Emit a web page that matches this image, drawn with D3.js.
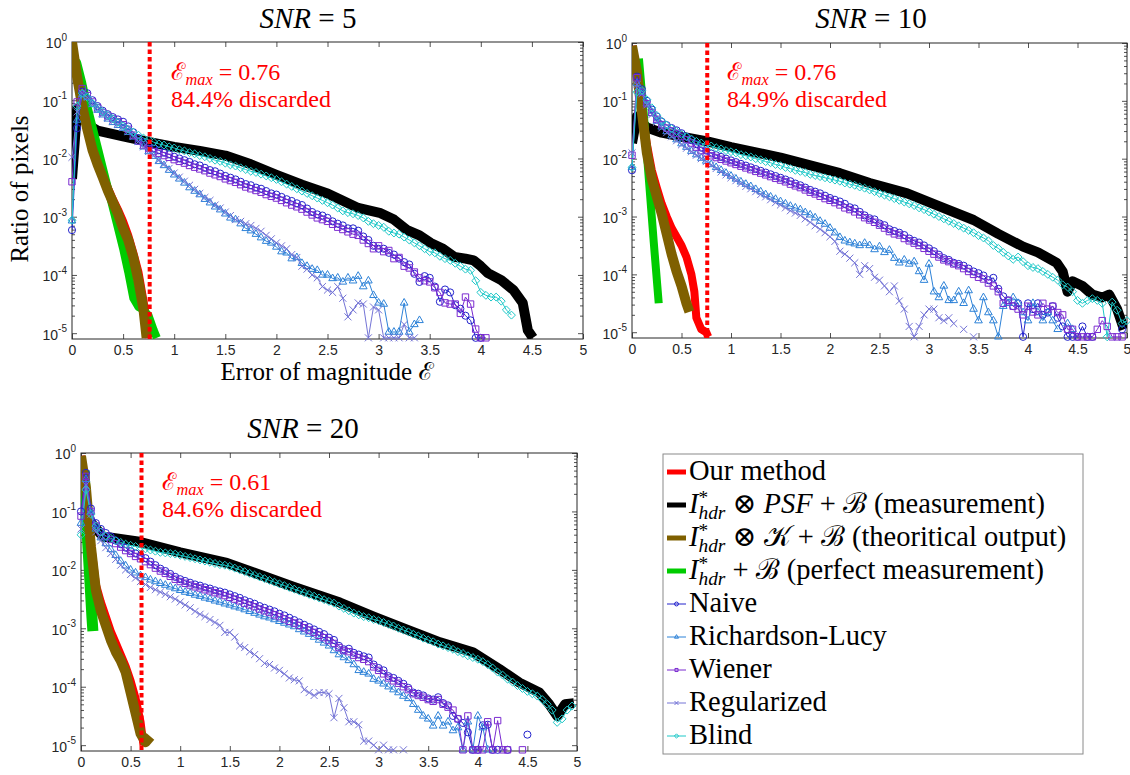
<!DOCTYPE html>
<html><head><meta charset="utf-8"><title>Error of magnitude histograms</title>
<script src="https://cdn.jsdelivr.net/npm/d3@7/dist/d3.min.js"></script>
<style>html,body{margin:0;padding:0;background:#fff;} svg text{white-space:pre;}</style>
</head><body>
<svg id="chart" width="1130" height="775"></svg>
<script>
// ---------------- DATA (y values are log10 of "Ratio of pixels") ----------------
const binStep = 0.05;   // histogram bin width along the error axis (marker series start at 0)
const xTickValues = [0,0.5,1,1.5,2,2.5,3,3.5,4,4.5,5];
const xTickLabels = ["0","0.5","1","1.5","2","2.5","3","3.5","4","4.5","5"];
const yTickExponents = [0,-1,-2,-3,-4,-5];
const yTickLabels = ["0","-1","-2","-3","-4","-5"];
const snrValues = ["5","10","20"];
const emaxValues = [0.76,0.76,0.61];
const discardedPct = ["84.4","84.9","84.6"];

// ---- SNR = 5 ----
const snr5_ours = [[0,-0.05],[0.05,-0.6],[0.1,-1.05],[0.15,-1.45],[0.2,-1.8],[0.25,-2.05],[0.3,-2.27],[0.35,-2.5],[0.4,-2.7],[0.45,-2.88],[0.5,-3.08],[0.55,-3.32],[0.6,-3.62],[0.65,-3.95],[0.7,-4.45],[0.75,-5.08]];
const snr5_measure = [[0,-2.35],[0.05,-1.15],[0.1,-1.25],[0.15,-1.42],[0.25,-1.52],[0.5,-1.62],[0.76,-1.72],[1,-1.8],[1.25,-1.87],[1.5,-1.95],[1.75,-2.1],[2,-2.28],[2.25,-2.45],[2.5,-2.6],[2.63,-2.71],[2.8,-2.85],[3.02,-2.94],[3.15,-3.05],[3.28,-3.23],[3.4,-3.32],[3.51,-3.45],[3.63,-3.55],[3.74,-3.69],[3.85,-3.72],[3.93,-3.75],[4,-3.85],[4.07,-3.97],[4.2,-4.09],[4.32,-4.26],[4.41,-4.48],[4.46,-4.95],[4.51,-5.08]];
const snr5_theory = [[0,0],[0.05,-0.6],[0.1,-1.1],[0.15,-1.5],[0.2,-1.85],[0.25,-2.1],[0.3,-2.32],[0.35,-2.55],[0.4,-2.75],[0.45,-2.95],[0.5,-3.2],[0.55,-3.4],[0.6,-3.7],[0.65,-4.1],[0.7,-4.6],[0.73,-5.08]];
const snr5_perfect = [[0,-0.55],[0.05,-0.35],[0.1,-0.7],[0.15,-1.1],[0.2,-1.45],[0.25,-1.8],[0.3,-2.15],[0.35,-2.5],[0.4,-2.85],[0.45,-3.2],[0.5,-3.55],[0.55,-3.95],[0.6,-4.4],[0.65,-4.55],[0.7,-4.6],[0.75,-4.7],[0.8,-4.95],[0.83,-5.08]];
const snr5_naive = [-3.23,-1.48,-0.85,-0.88,-1.0,-1.1,-1.18,-1.24,-1.29,-1.33,
 -1.37,-1.45,-1.55,-1.65,-1.73,-1.79,-1.83,-1.86,-1.9,-1.93,
 -1.97,-2.0,-2.03,-2.06,-2.1,-2.12,-2.16,-2.2,-2.22,-2.26,
 -2.3,-2.33,-2.36,-2.4,-2.44,-2.46,-2.5,-2.52,-2.56,-2.6,
 -2.62,-2.66,-2.7,-2.73,-2.77,-2.8,-2.86,-2.92,-2.96,-2.98,
 -3.02,-3.08,-3.12,-3.15,-3.2,-3.2,-3.24,-3.34,-3.4,-3.5,
 -3.55,-3.55,-3.62,-3.65,-3.72,-3.78,-3.82,-3.98,-4.12,-4.02,
 -4.05,-4.2,-4.46,-4.25,-4.3,-4.52,-4.58,-4.7,-4.78,-5.08,
 -5.08];
const snr5_rl = [-3.07,-1.34,-0.9,-0.95,-1.07,-1.17,-1.25,-1.32,-1.38,-1.43,
 -1.48,-1.55,-1.63,-1.72,-1.8,-1.88,-1.96,-2.05,-2.12,-2.2,
 -2.28,-2.35,-2.42,-2.5,-2.56,-2.62,-2.7,-2.76,-2.83,-2.88,
 -2.95,-3.02,-3.05,-3.12,-3.2,-3.24,-3.3,-3.36,-3.42,-3.45,
 -3.52,-3.6,-3.62,-3.72,-3.7,-3.8,-3.85,-3.9,-3.92,-4.0,
 -4.0,-4.06,-4.05,-4.12,-4.05,-4.1,-4.02,-4.2,-4.1,-4.35,
 -4.48,-4.5,-4.98,-4.98,-4.98,-4.48,-4.98,-4.85,-4.78];
const snr5_wiener = [-2.4,-1.03,-0.8,-0.92,-1.03,-1.13,-1.21,-1.27,-1.32,-1.37,
 -1.42,-1.5,-1.6,-1.7,-1.77,-1.83,-1.88,-1.91,-1.95,-1.98,
 -2.02,-2.05,-2.08,-2.12,-2.15,-2.18,-2.21,-2.25,-2.28,-2.31,
 -2.35,-2.38,-2.41,-2.45,-2.49,-2.52,-2.55,-2.58,-2.62,-2.65,
 -2.68,-2.72,-2.76,-2.8,-2.83,-2.87,-2.92,-2.97,-3.02,-3.05,
 -3.08,-3.13,-3.18,-3.22,-3.26,-3.3,-3.32,-3.4,-3.46,-3.55,
 -3.5,-3.6,-3.58,-3.72,-3.7,-3.85,-3.88,-3.95,-4.05,-4.1,
 -4.12,-4.22,-4.3,-4.48,-4.5,-4.5,-4.66,-4.38,-4.5,-4.93,
 -5.08,-5.08];
const snr5_reg = [-1.98,-1.2,-0.88,-0.95,-1.06,-1.16,-1.24,-1.31,-1.37,-1.42,
 -1.47,-1.54,-1.62,-1.71,-1.8,-1.88,-1.95,-2.03,-2.1,-2.17,
 -2.25,-2.32,-2.39,-2.46,-2.53,-2.6,-2.67,-2.72,-2.8,-2.85,
 -2.92,-2.98,-3.05,-3.08,-3.12,-3.15,-3.2,-3.25,-3.32,-3.38,
 -3.45,-3.5,-3.55,-3.65,-3.7,-3.85,-3.9,-4.0,-4.05,-4.2,
 -4.26,-4.3,-4.2,-4.4,-4.72,-4.6,-4.48,-4.5,-5.08,-4.55,
 -4.6,-5.08,-5.08,-5.08,-5.08,-4.85,-5.08,-5.08];
const snr5_blind = [-3.06,-1.1,-0.88,-0.95,-1.05,-1.13,-1.2,-1.26,-1.32,-1.38,
 -1.44,-1.5,-1.55,-1.6,-1.65,-1.68,-1.72,-1.75,-1.77,-1.8,
 -1.82,-1.85,-1.87,-1.9,-1.92,-1.95,-1.97,-2.0,-2.03,-2.05,
 -2.08,-2.11,-2.13,-2.16,-2.19,-2.22,-2.24,-2.27,-2.3,-2.33,
 -2.36,-2.4,-2.44,-2.48,-2.52,-2.56,-2.6,-2.64,-2.68,-2.72,
 -2.76,-2.8,-2.85,-2.9,-2.93,-2.95,-2.98,-3.02,-3.08,-3.12,
 -3.15,-3.18,-3.25,-3.28,-3.3,-3.35,-3.4,-3.45,-3.5,-3.55,
 -3.6,-3.62,-3.68,-3.72,-3.75,-3.8,-3.85,-3.9,-3.92,-4.1,
 -4.3,-4.35,-4.38,-4.38,-4.45,-4.6,-4.69];

// ---- SNR = 10 ----
const snr10_ours = [[0,-0.05],[0.05,-0.5],[0.1,-1.15],[0.15,-1.75],[0.2,-2.2],[0.25,-2.5],[0.3,-2.78],[0.35,-3.0],[0.4,-3.2],[0.45,-3.35],[0.5,-3.5],[0.55,-3.7],[0.6,-4.0],[0.63,-4.3],[0.65,-4.75],[0.7,-4.95],[0.75,-5.0],[0.77,-5.08]];
const snr10_measure = [[0,-1.73],[0.05,-1.27],[0.1,-1.38],[0.15,-1.46],[0.3,-1.55],[0.5,-1.62],[0.76,-1.7],[1,-1.8],[1.5,-1.98],[2.1,-2.25],[2.4,-2.42],[2.78,-2.6],[3.1,-2.82],[3.45,-3.06],[3.7,-3.3],[3.95,-3.52],[4.1,-3.62],[4.29,-3.8],[4.35,-3.95],[4.4,-4.3],[4.45,-4.12],[4.55,-4.2],[4.65,-4.35],[4.75,-4.4],[4.82,-4.35],[4.9,-4.6],[4.97,-4.95]];
const snr10_theory = [[0,-0.05],[0.05,-0.5],[0.1,-1.2],[0.15,-1.9],[0.2,-2.35],[0.25,-2.65],[0.3,-2.95],[0.35,-3.3],[0.4,-3.65],[0.45,-3.95],[0.5,-4.2],[0.55,-4.5],[0.58,-4.65]];
const snr10_perfect = [[0.07,-0.27],[0.12,-1.25],[0.17,-2.35],[0.22,-3.45],[0.27,-4.5]];
const snr10_naive = [-2.2,-0.58,-0.8,-1.0,-1.15,-1.27,-1.36,-1.42,-1.47,-1.51,
 -1.56,-1.62,-1.68,-1.75,-1.81,-1.86,-1.91,-1.94,-1.97,-2.0,
 -2.03,-2.06,-2.09,-2.12,-2.15,-2.18,-2.21,-2.24,-2.27,-2.3,
 -2.33,-2.36,-2.39,-2.43,-2.46,-2.5,-2.54,-2.57,-2.6,-2.64,
 -2.68,-2.71,-2.74,-2.78,-2.84,-2.86,-2.92,-2.98,-3.03,-3.05,
 -3.12,-3.15,-3.22,-3.25,-3.28,-3.32,-3.38,-3.42,-3.45,-3.5,
 -3.55,-3.6,-3.66,-3.72,-3.75,-3.8,-3.82,-3.85,-3.9,-3.95,
 -3.98,-4.02,-4.1,-4.06,-4.25,-4.38,-4.45,-4.55,-4.5,-5.08,
 -4.5,-4.6,-4.5,-4.7,-4.66,-4.55,-4.75,-4.9,-5.08,-5.08,
 -5.08,-4.9,-5.08,-5.08,null,null,null,null,null,-4.95];
const snr10_rl = [-2.15,-0.7,-0.85,-1.05,-1.22,-1.35,-1.45,-1.53,-1.6,-1.67,
 -1.74,-1.8,-1.87,-1.93,-1.99,-2.04,-2.1,-2.15,-2.2,-2.25,
 -2.3,-2.35,-2.4,-2.44,-2.48,-2.53,-2.57,-2.62,-2.66,-2.7,
 -2.74,-2.78,-2.82,-2.85,-2.88,-2.93,-2.97,-3.02,-3.08,-3.13,
 -3.2,-3.28,-3.36,-3.42,-3.45,-3.47,-3.5,-3.46,-3.5,-3.57,
 -3.52,-3.62,-3.58,-3.72,-3.8,-3.75,-3.82,-3.78,-3.95,-4.1,
 -3.82,-4.3,-4.4,-4.2,-4.45,-4.45,-4.3,-4.5,-4.28,-4.6,
 -4.8,-4.4,-4.66,-4.8,-5.08,-4.55,-4.5,-4.4,-4.5,-4.66,
 -4.8,-4.5,-4.66,-4.8,-4.66,-4.8,-4.95,null,-4.85,-4.95];
const snr10_wiener = [-1.94,-0.6,-0.85,-1.05,-1.2,-1.32,-1.41,-1.47,-1.52,-1.56,
 -1.61,-1.67,-1.73,-1.8,-1.86,-1.91,-1.95,-1.98,-2.01,-2.04,
 -2.07,-2.1,-2.13,-2.16,-2.19,-2.22,-2.25,-2.28,-2.31,-2.34,
 -2.37,-2.4,-2.44,-2.47,-2.5,-2.54,-2.58,-2.61,-2.65,-2.69,
 -2.72,-2.76,-2.8,-2.85,-2.88,-2.92,-2.97,-3.02,-3.06,-3.1,
 -3.15,-3.2,-3.26,-3.3,-3.32,-3.38,-3.42,-3.46,-3.5,-3.55,
 -3.6,-3.65,-3.7,-3.75,-3.78,-3.82,-3.85,-3.9,-3.95,-4.0,
 -4.05,-4.08,-4.15,-4.2,-4.3,-4.5,-4.45,-4.55,-4.6,-4.7,
 -4.55,-4.65,-4.7,-4.5,-4.6,-4.55,-4.66,-4.7,-4.95,-4.95,
 -5.08,-5.08,-5.08,-5.08,-4.95,-4.8,-4.9,-5.08,-5.08,-5.08];
const snr10_reg = [-1.9,-0.72,-0.88,-1.07,-1.24,-1.37,-1.47,-1.55,-1.62,-1.69,
 -1.76,-1.82,-1.88,-1.94,-2.0,-2.05,-2.11,-2.17,-2.23,-2.28,
 -2.33,-2.38,-2.43,-2.48,-2.52,-2.57,-2.62,-2.66,-2.71,-2.76,
 -2.8,-2.85,-2.9,-2.94,-2.98,-3.04,-3.1,-3.16,-3.22,-3.28,
 -3.35,-3.43,-3.6,-3.65,-3.72,-3.8,-4.0,-3.85,-3.9,-4.05,
 -4.1,-4.2,-4.3,-4.2,-4.46,-4.6,-4.9,-5.08,-4.9,-4.7,
 -4.6,-4.6,-4.75,-4.8,-4.75,-4.85,null,-4.95,null,-5.08];
const snr10_blind = [-2.15,-0.85,-0.82,-0.98,-1.12,-1.25,-1.35,-1.42,-1.48,-1.53,
 -1.58,-1.62,-1.66,-1.7,-1.73,-1.76,-1.78,-1.81,-1.83,-1.86,
 -1.88,-1.9,-1.93,-1.95,-1.97,-2.0,-2.02,-2.05,-2.07,-2.1,
 -2.12,-2.15,-2.17,-2.2,-2.22,-2.24,-2.27,-2.29,-2.31,-2.33,
 -2.35,-2.37,-2.39,-2.42,-2.44,-2.46,-2.49,-2.51,-2.54,-2.57,
 -2.6,-2.63,-2.66,-2.69,-2.72,-2.75,-2.78,-2.81,-2.85,-2.88,
 -2.92,-2.96,-3.0,-3.04,-3.08,-3.12,-3.16,-3.2,-3.24,-3.28,
 -3.33,-3.37,-3.42,-3.5,-3.55,-3.62,-3.68,-3.74,-3.7,-3.78,
 -3.85,-3.88,-3.9,-3.95,-4.0,-4.05,-4.1,-4.18,-4.22,-4.3,
 -4.45,-4.5,-4.45,-4.42,-4.45,-4.5,-5.08,-4.48,-4.62,-4.85,
 -4.8];

// ---- SNR = 20 ----
const snr20_ours = [[0,-0.05],[0.05,-0.6],[0.1,-1.55],[0.15,-2.25],[0.2,-2.55],[0.25,-2.8],[0.3,-3.05],[0.35,-3.25],[0.4,-3.45],[0.45,-3.65],[0.5,-3.9],[0.55,-4.2],[0.6,-4.6],[0.63,-5.0]];
const snr20_measure = [[0,-1.3],[0.03,-1.05],[0.08,-1.15],[0.22,-1.43],[0.59,-1.52],[1,-1.7],[1.47,-1.88],[2.14,-2.29],[2.61,-2.56],[2.95,-2.8],[3.28,-3.02],[3.62,-3.24],[3.95,-3.41],[4.22,-3.7],[4.42,-3.93],[4.62,-4.1],[4.72,-4.3],[4.8,-4.5],[4.88,-4.3],[4.97,-4.28]];
const snr20_theory = [[0,-0.05],[0.05,-0.6],[0.1,-1.6],[0.15,-2.35],[0.2,-2.7],[0.25,-2.95],[0.3,-3.2],[0.35,-3.4],[0.4,-3.55],[0.45,-3.75],[0.5,-4.1],[0.55,-4.45],[0.6,-4.8],[0.65,-4.95],[0.7,-4.85]];
const snr20_perfect = [[0.03,-0.3],[0.06,-1.3],[0.09,-2.2],[0.11,-2.8],[0.12,-3.05]];
const snr20_naive = [-1.0,-0.34,-0.95,-1.2,-1.3,-1.37,-1.43,-1.5,-1.56,-1.62,
 -1.68,-1.72,-1.76,-1.8,-1.86,-1.92,-1.98,-2.02,-2.07,-2.12,
 -2.16,-2.19,-2.22,-2.25,-2.27,-2.3,-2.32,-2.35,-2.37,-2.39,
 -2.42,-2.45,-2.48,-2.52,-2.55,-2.58,-2.62,-2.65,-2.68,-2.71,
 -2.75,-2.78,-2.82,-2.86,-2.9,-2.94,-2.98,-3.02,-3.06,-3.1,
 -3.16,-3.2,-3.3,-3.36,-3.35,-3.42,-3.45,-3.48,-3.5,-3.62,
 -3.68,-3.72,-3.82,-3.85,-3.9,-3.95,-4.02,-4.1,-4.12,-4.15,
 -4.2,-4.22,-4.18,-4.28,-4.32,-4.5,-4.55,-4.62,-4.78,-5.08,
 -5.08,-4.66,-4.65,-5.08,-5.08,null,-5.08,null,null,null,
 -4.82];
const snr20_rl = [-1.2,-0.45,-1.0,-1.3,-1.45,-1.55,-1.65,-1.75,-1.85,-1.93,
 -2.0,-2.05,-2.1,-2.13,-2.17,-2.2,-2.23,-2.26,-2.29,-2.32,
 -2.35,-2.38,-2.4,-2.43,-2.45,-2.48,-2.5,-2.53,-2.55,-2.58,
 -2.6,-2.63,-2.65,-2.68,-2.71,-2.74,-2.77,-2.8,-2.82,-2.85,
 -2.88,-2.91,-2.94,-2.97,-3.02,-3.06,-3.1,-3.15,-3.2,-3.25,
 -3.3,-3.38,-3.45,-3.5,-3.55,-3.62,-3.72,-3.75,-3.78,-3.87,
 -3.9,-3.95,-4.0,-4.05,-4.1,-4.16,-4.2,-4.3,-4.4,-4.5,
 -4.55,-4.67,-4.5,-4.67,-4.6,-4.75,-4.7,-5.08,-4.6,-5.08,
 -4.5,-4.7,-5.08];
const snr20_wiener = [-1.08,-0.4,-1.0,-1.25,-1.35,-1.42,-1.48,-1.55,-1.61,-1.67,
 -1.72,-1.77,-1.81,-1.86,-1.91,-1.97,-2.02,-2.06,-2.11,-2.16,
 -2.2,-2.23,-2.26,-2.29,-2.31,-2.34,-2.36,-2.39,-2.41,-2.44,
 -2.47,-2.5,-2.53,-2.57,-2.6,-2.63,-2.67,-2.7,-2.73,-2.77,
 -2.8,-2.84,-2.88,-2.91,-2.95,-2.99,-3.03,-3.07,-3.12,-3.16,
 -3.21,-3.26,-3.33,-3.38,-3.4,-3.46,-3.5,-3.53,-3.57,-3.66,
 -3.72,-3.78,-3.85,-3.9,-3.94,-4.0,-4.05,-4.12,-4.15,-4.18,
 -4.22,-4.25,-4.22,-4.3,-4.35,-4.4,-4.55,-5.08,-4.5,-5.08,
 -5.08,-5.08,-4.6,-5.08,-4.58,-5.08,-5.08,null,null,-5.08];
const snr20_reg = [-1.3,-0.55,-1.05,-1.35,-1.5,-1.62,-1.72,-1.82,-1.92,-2.0,
 -2.08,-2.14,-2.2,-2.25,-2.3,-2.34,-2.38,-2.42,-2.46,-2.5,
 -2.55,-2.6,-2.65,-2.71,-2.76,-2.8,-2.85,-2.9,-2.95,-3.07,
 -3.07,-3.15,-3.3,-3.33,-3.4,-3.45,-3.52,-3.6,-3.62,-3.68,
 -3.72,-3.78,-3.85,-3.88,-3.9,-4.05,-4.1,-4.15,-4.1,-4.1,
 -4.12,-4.53,-4.2,-4.36,-4.6,-4.6,-4.65,-4.93,-4.93,-5.0,
 -5.08,-5.0,-5.08,-5.08,null,-5.08];
const snr20_blind = [-1.4,-0.63,-1.05,-1.25,-1.35,-1.42,-1.46,-1.5,-1.53,-1.56,
 -1.58,-1.6,-1.62,-1.64,-1.66,-1.68,-1.7,-1.71,-1.72,-1.73,
 -1.75,-1.77,-1.79,-1.81,-1.83,-1.85,-1.87,-1.89,-1.91,-1.92,
 -1.94,-1.97,-2.0,-2.03,-2.06,-2.09,-2.12,-2.15,-2.18,-2.21,
 -2.24,-2.27,-2.3,-2.33,-2.36,-2.39,-2.42,-2.45,-2.48,-2.51,
 -2.54,-2.57,-2.62,-2.66,-2.7,-2.74,-2.77,-2.8,-2.82,-2.85,
 -2.87,-2.9,-2.93,-2.96,-3.0,-3.03,-3.06,-3.1,-3.13,-3.17,
 -3.2,-3.23,-3.27,-3.3,-3.33,-3.36,-3.4,-3.43,-3.47,-3.5,
 -3.53,-3.57,-3.62,-3.68,-3.75,-3.8,-3.87,-3.92,-3.98,-4.03,
 -4.08,-4.12,-4.16,-4.22,-4.3,-4.4,-4.61,-4.55,-4.4,-4.33];

// ---------------- STYLE / LAYOUT ----------------
const SERIF = "'Liberation Serif','DejaVu Serif','Noto Serif','Tinos','Times New Roman',Times,serif";
const SANS = "'Liberation Sans',Arial,Helvetica,sans-serif";
const AXC = "#262626";
const colors = {ours:"#ff0000", measure:"#000000", theory:"#7f6000", perfect:"#00cc00",
  naive:"#2323cc", rl:"#2d82d8", wiener:"#7b2bd0", reg:"#7474d6", blind:"#1ec8c8"};
const thickWidth = {measure:10, ours:8, perfect:8, theory:10};
const symOf = {
  naive: d3.symbolCircle,
  rl: d3.symbolTriangle2 || d3.symbolTriangle,
  wiener: d3.symbolSquare2 || d3.symbolSquare,
  reg: d3.symbolTimes || d3.symbolCross,
  blind: d3.symbolDiamond2 || d3.symbolDiamond
};
const symSize = {naive:40, rl:42, wiener:52, reg:34, blind:40};

const panels = [
  {id:0, l:72, r:583, t:42, b:339, titleX:308, titleY:28, annX:171, annY:80,
   thick:{ours:snr5_ours, measure:snr5_measure, theory:snr5_theory, perfect:snr5_perfect},
   marks:{naive:snr5_naive, rl:snr5_rl, wiener:snr5_wiener, reg:snr5_reg, blind:snr5_blind}},
  {id:1, l:632, r:1127, t:43, b:338, titleX:871, titleY:28, annX:727, annY:80,
   thick:{ours:snr10_ours, measure:snr10_measure, theory:snr10_theory, perfect:snr10_perfect},
   marks:{naive:snr10_naive, rl:snr10_rl, wiener:snr10_wiener, reg:snr10_reg, blind:snr10_blind}},
  {id:2, l:81, r:577, t:453, b:751, titleX:303, titleY:438, annX:162, annY:490,
   thick:{ours:snr20_ours, measure:snr20_measure, theory:snr20_theory, perfect:snr20_perfect},
   marks:{naive:snr20_naive, rl:snr20_rl, wiener:snr20_wiener, reg:snr20_reg, blind:snr20_blind}}
];

const svg = d3.select("#chart");
const defs = svg.append("defs");

// rich text helper: segments [text, kind]; kind: undefined|"i"|"sup"|"sub"
function rich(parent, x, y, segs, size, fill, anchor) {
  const t = parent.append("text").attr("x", x).attr("y", y)
    .style("font-family", SERIF).attr("font-size", size).attr("fill", fill)
    .attr("text-anchor", anchor || "start");
  let off = 0, lastSupW = 0, prev = null;
  segs.forEach(([s, kind]) => {
    const sp = t.append("tspan").text(s);
    let target = 0;
    if (kind === "sup") { target = -0.33*size; sp.attr("font-size", size*0.68); }
    else if (kind === "sub") { target = 0.22*size; sp.attr("font-size", size*0.68).attr("font-style","italic"); }
    else if (kind === "i") { sp.attr("font-style","italic"); }
    if (target !== off) { sp.attr("dy", target - off); off = target; }
    if (kind === "sub" && prev === "sup") sp.attr("dx", -lastSupW);
    if (kind === "sup") lastSupW = sp.node().getComputedTextLength();
    prev = kind;
  });
  return t;
}

const line = (x, y) => d3.line().defined(d => d[1] != null)
  .x(d => x(d[0])).y(d => y(Math.pow(10, d[1])));

panels.forEach((p, pi) => {
  const x = d3.scaleLinear().domain([0, 5]).range([p.l, p.r]);
  const y = d3.scaleLog().domain([Math.pow(10, -5.1), 1]).range([p.b, p.t]);
  const g = svg.append("g");
  defs.append("clipPath").attr("id", "clip" + pi).append("rect")
    .attr("x", p.l).attr("y", p.t).attr("width", p.r - p.l).attr("height", p.b - p.t);

  // axes (MATLAB style, ticks inside on all four sides)
  const major = yTickExponents.map(e => Math.pow(10, e));
  const minor = [];
  for (let e = -5; e < 0; e++) for (let m = 2; m <= 9; m++) minor.push(m * Math.pow(10, e));
  const styleAxis = sel => { sel.select(".domain").remove();
    sel.selectAll("line").attr("stroke", AXC).attr("stroke-width", 0.8); };
  g.append("g").attr("transform", `translate(0,${p.b})`)
    .call(d3.axisBottom(x).tickValues(xTickValues).tickSize(-5).tickPadding(6)
      .tickFormat((d, i) => xTickLabels[i]))
    .call(styleAxis)
    .call(s => s.selectAll("text").attr("font-family", SANS).attr("font-size", 14).attr("fill", AXC));
  g.append("g").attr("transform", `translate(0,${p.t})`)
    .call(d3.axisTop(x).tickValues(xTickValues).tickSize(-5).tickFormat(() => ""))
    .call(styleAxis);
  [["L", p.l, d3.axisLeft], ["R", p.r, d3.axisRight]].forEach(([side, px, ax]) => {
    g.append("g").attr("transform", `translate(${px},0)`)
      .call(ax(y).tickValues(minor).tickSize(-3).tickFormat(() => "")).call(styleAxis);
    const a = g.append("g").attr("transform", `translate(${px},0)`)
      .call(ax(y).tickValues(major).tickSize(-5).tickPadding(5).tickFormat(() => ""))
      .call(styleAxis);
    if (side === "L") {
      a.selectAll("text").each(function(d, i) {
        const t = d3.select(this).attr("dy", "0.42em").attr("font-family", SANS)
          .attr("font-size", 14).attr("fill", AXC);
        t.append("tspan").text("10");
        t.append("tspan").attr("font-size", 10).attr("dy", "-0.75em").text(yTickLabels[i]);
      });
    }
  });
  g.append("rect").attr("x", p.l).attr("y", p.t).attr("width", p.r - p.l).attr("height", p.b - p.t)
    .attr("fill", "none").attr("stroke", AXC).attr("stroke-width", 1);

  // thick reference curves
  const lg = line(x, y);
  const plot = g.append("g").attr("clip-path", `url(#clip${pi})`);
  ["measure", "ours", "perfect", "theory"].forEach(k => {
    plot.append("path").attr("d", lg(p.thick[k])).attr("fill", "none")
      .attr("stroke", colors[k]).attr("stroke-width", k === "perfect" && pi === 2 ? 11 : thickWidth[k])
      .attr("stroke-linejoin", "round").attr("stroke-linecap", "butt");
  });
  // method curves with markers
  ["naive", "rl", "wiener", "reg", "blind"].forEach(k => {
    const pts = p.marks[k].map((v, i) => [i * binStep, v]);
    plot.append("path").attr("d", lg(pts)).attr("fill", "none")
      .attr("stroke", colors[k]).attr("stroke-width", 1);
    const sym = d3.symbol().type(symOf[k]).size(symSize[k]);
    g.append("g").selectAll("path").data(pts.filter(d => d[1] != null)).join("path")
      .attr("transform", d => `translate(${x(d[0])},${y(Math.pow(10, d[1]))})`)
      .attr("d", sym).attr("fill", "none").attr("stroke", colors[k]).attr("stroke-width", 1);
  });

  // E_max threshold
  g.append("line").attr("x1", x(emaxValues[pi])).attr("x2", x(emaxValues[pi]))
    .attr("y1", p.t).attr("y2", p.b).attr("stroke", "#ff0000").attr("stroke-width", 4)
    .attr("stroke-dasharray", "4.5,3");
  rich(g, p.annX, p.annY, [["\u2130"], ["max", "sub"], [" = " + emaxValues[pi]]], 24, "#ff0000");
  rich(g, p.annX, p.annY + 27, [[discardedPct[pi] + "% discarded"]], 24, "#ff0000");

  // title
  rich(svg, p.titleX, p.titleY, [["SNR", "i"], [" = " + snrValues[pi]]], 29, "#000", "middle");
});

// axis labels (first panel)
svg.append("text").attr("transform", "translate(28,189) rotate(-90)").attr("text-anchor", "middle")
  .style("font-family", SERIF).attr("font-size", 25).text("Ratio of pixels");
svg.append("text").attr("x", 327).attr("y", 380).attr("text-anchor", "middle")
  .style("font-family", SERIF).attr("font-size", 25).text("Error of magnitude \u2130");

// legend
const legendEntries = [
  {k:"ours", segs:[["Our method"]]},
  {k:"measure", segs:[["I","i"],["*","sup"],["hdr","sub"],[" \u2297 "],["PSF","i"],[" + \u212C (measurement)"]]},
  {k:"theory", segs:[["I","i"],["*","sup"],["hdr","sub"],[" \u2297 "],["\uD835\uDCA6"],[" + "],["\u212C"],[" (theoritical output)"]]},
  {k:"perfect", segs:[["I","i"],["*","sup"],["hdr","sub"],[" + \u212C (perfect measurement)"]]},
  {k:"naive", segs:[["Naive"]]},
  {k:"rl", segs:[["Richardson-Lucy"]]},
  {k:"wiener", segs:[["Wiener"]]},
  {k:"reg", segs:[["Regularized"]]},
  {k:"blind", segs:[["Blind"]]}
];
const lgG = svg.append("g");
lgG.append("rect").attr("x", 663).attr("y", 454).attr("width", 420).attr("height", 300)
  .attr("fill", "#fff").attr("stroke", "#8a8a8a").attr("stroke-width", 1);
legendEntries.forEach((e, i) => {
  const by = 480 + i * 33;
  const thick = thickWidth[e.k] != null;
  lgG.append("line").attr("x1", 667).attr("x2", 686).attr("y1", by - 8).attr("y2", by - 8)
    .attr("stroke", colors[e.k]).attr("stroke-width", thick ? 5 : 1);
  if (!thick) lgG.append("path").attr("transform", `translate(676.5,${by - 8})`)
    .attr("d", d3.symbol().type(symOf[e.k]).size(12)).attr("fill", "none")
    .attr("stroke", colors[e.k]).attr("stroke-width", 1);
  rich(lgG, 689, by, e.segs, 28.5, "#000");
});
</script>
</body></html>
